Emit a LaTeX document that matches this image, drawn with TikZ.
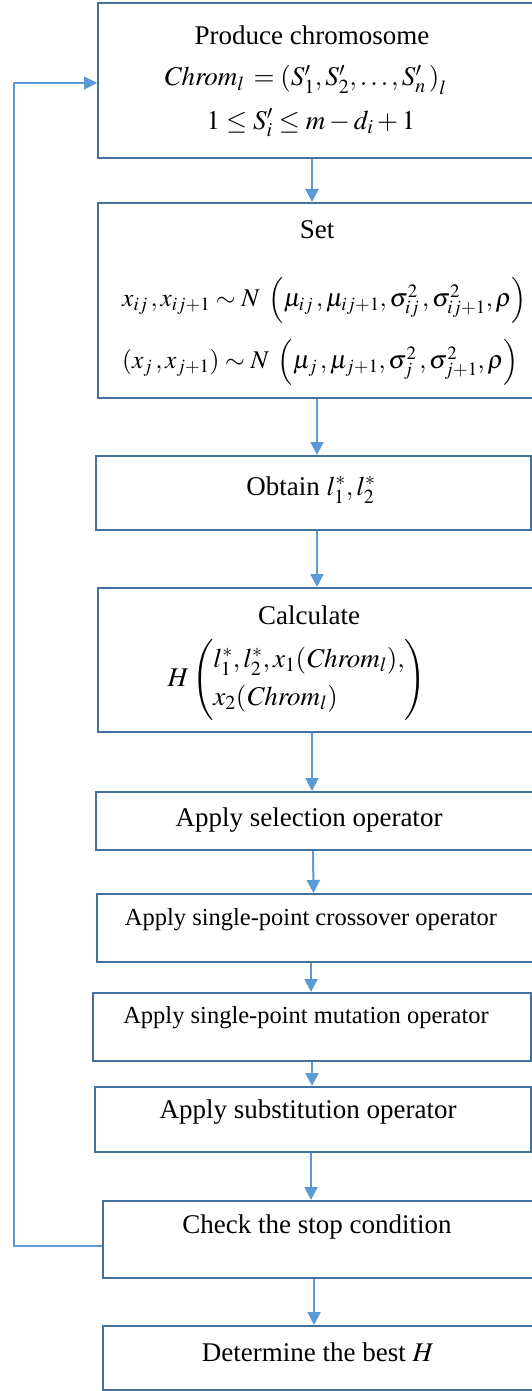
\documentclass[tikz,border=0pt]{standalone}
\usepackage{mathptmx}
\usepackage[no-math]{fontspec}
\setmainfont{Liberation Serif}
\usetikzlibrary{arrows.meta,calc}
\definecolor{boxc}{HTML}{41719C}
\definecolor{arrc}{HTML}{5B9BD5}
\tikzset{
  box/.style={draw=boxc,line width=2pt,inner sep=0pt},
  txt/.style={inner sep=0pt,font=\fontsize{27}{32}\selectfont},
  mtxt/.style={inner sep=0pt,font=\fontsize{25.5}{30}\selectfont},
  stxt/.style={inner sep=0pt,font=\fontsize{24.5}{29}\selectfont},
  arr/.style={draw=arrc,line width=2pt,-{Triangle[length=13pt,width=13pt]}},
  looparr/.style={draw=arrc,line width=1.2pt,-{Triangle[length=13pt,width=13pt]}}
}
\begin{document}
\begin{tikzpicture}[x=1pt,y=-1pt]
\useasboundingbox (0,0) rectangle (532,1391);
\clip (0,0) rectangle (532,1391);
% boxes
\node[box,minimum width=438pt,minimum height=155pt] (b1) at (317,80.5) {};
\node[box,minimum width=438pt,minimum height=195pt] (b2) at (317,300.5) {};
\node[box,minimum width=435pt,minimum height=74pt] (b3) at (313.5,493) {};
\node[box,minimum width=438pt,minimum height=144pt] (b4) at (317,660) {};
\node[box,minimum width=440pt,minimum height=58pt] (b5) at (316,821) {};
\node[box,minimum width=439pt,minimum height=68pt] (b6) at (316.5,928) {};
\node[box,minimum width=438pt,minimum height=68pt] (b7) at (312,1027) {};
\node[box,minimum width=436pt,minimum height=65pt] (b8) at (313,1119.5) {};
\node[box,minimum width=433pt,minimum height=77pt] (b9) at (319.5,1239.5) {};
\node[box,minimum width=433pt,minimum height=64pt] (b10) at (319.5,1358) {};
% texts
\node[txt] (t1a) at (312,35) {Produce chromosome};
\node[txt] (t1b) at (305,80) {$\mathit{Chrom}_{l}\,=\left(S'_1,S'_2,\ldots,S'_n\,\right)_{l}$};
\node[txt] (t1c) at (311,123) {$1\le S'_i\le m-d_i+1$};
\node[txt] (t2a) at (317,230) {Set};
\node[mtxt,anchor=west] (t2b) at (122,300) {$x_{ij}\,,x_{ij+1}\sim N\;\left(\mu_{ij}\,,\mu_{ij+1},\sigma^2_{ij}\,,\sigma^2_{ij+1},\rho\right)$};
\node[mtxt,anchor=west] (t2c) at (122,362) {$(x_{j}\,,x_{j+1})\sim N\;\left(\mu_{j}\,,\mu_{j+1},\sigma^2_{j}\,,\sigma^2_{j+1},\rho\right)$};
\node[txt] (t3) at (311,490) {Obtain $l_1^*,l_2^*$};
\node[txt] (t4a) at (309,615) {Calculate};
\node[txt] (t4b) at (297,680) {$H\left(\begin{array}{@{}l@{}}l_1^*,l_2^*,x_1(\mathit{Chrom}_l),\\[6pt] x_2(\mathit{Chrom}_l)\end{array}\right)$};
\node[txt] (t5) at (309,820) {Apply selection operator};
\node[stxt] (t6) at (311,920) {Apply single-point crossover operator};
\node[stxt] (t7) at (306,1018) {Apply single-point mutation operator};
\node[txt] (t8) at (308,1112) {Apply substitution operator};
\node[txt] (t9) at (317,1227) {Check the stop condition};
\node[txt] (t10) at (318,1352) {Determine the best $H$};
% arrows
\draw[arr] ([xshift=-5pt]b1.south) -- ([xshift=-5pt]b2.north);
\draw[arr] (b2.south) -- (b2.south |- b3.north);
\draw[arr] ([xshift=3.5pt]b3.south) -- ([xshift=0pt]b4.north);
\draw[arr] ([xshift=-5pt]b4.south) -- ([xshift=-4pt]b5.north);
\draw[arr] ([xshift=-3pt]b5.south) -- ([xshift=-3pt]b6.north);
\draw[arr] ([xshift=-5.5pt]b6.south) -- ([xshift=-1pt]b7.north);
\draw[arr] (b7.south) -- ([xshift=-1pt]b8.north);
\draw[arr] ([xshift=-2pt]b8.south) -- ([xshift=-8.5pt]b9.north);
\draw[arr] ([xshift=-5.5pt]b9.south) -- ([xshift=-5.5pt]b10.north);
% loop back
\coordinate (lp) at (14,1246);
\draw[looparr] ([yshift=-6.5pt]b9.west) -- (lp) |- ([yshift=-2.5pt]b1.west);
\end{tikzpicture}
\end{document}
